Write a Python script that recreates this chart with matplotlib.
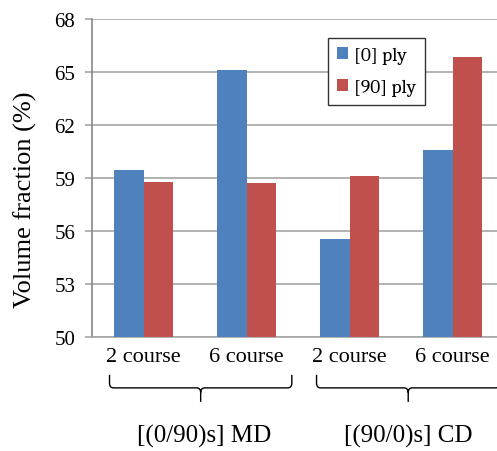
import numpy as np
import matplotlib.pyplot as plt
from matplotlib.path import Path
from matplotlib.patches import PathPatch
from matplotlib.transforms import blended_transform_factory

categories = ["2 course", "6 course", "2 course", "6 course"]
ply0 = [59.43, 65.1, 55.55, 60.6]
ply90 = [58.79, 58.74, 59.13, 65.85]
series_names = ["[0] ply", "[90] ply"]
groups = ["[(0/90)s] MD", "[(90/0)s] CD"]

blue = "#4F81BD"
red = "#C0504D"
grid_gray = "#A6A6A6"

plt.rcParams["font.family"] = ["Liberation Serif", "DejaVu Serif"]

fig = plt.figure(figsize=(4.97, 4.52), dpi=100)
ax = fig.add_axes([92 / 497, 114 / 452, 412 / 497, 318 / 452])

x = np.arange(len(categories))
w = 0.285
ax.bar(x - w / 2, ply0, w, color=blue, label=series_names[0], zorder=3)
ax.bar(x + w / 2, ply90, w, color=red, label=series_names[1], zorder=3)

ax.set_ylim(50, 68)
ax.set_xlim(-0.5, 3.5)
ax.set_yticks([50, 53, 56, 59, 62, 65, 68])
ax.yaxis.grid(True, color=grid_gray, linewidth=1.2, zorder=0)
ax.set_axisbelow(True)
ax.tick_params(axis="y", length=5, width=1.2, color=grid_gray, labelsize=15, pad=7)
ax.tick_params(axis="x", length=0, labelsize=16, pad=7)
ax.set_xticks(x)
ax.set_xticklabels(categories)
for side in ["top", "right"]:
    ax.spines[side].set_visible(False)
ax.spines["left"].set_color("#888888")
ax.spines["bottom"].set_color(grid_gray)
ax.spines["left"].set_linewidth(1.2)
ax.spines["bottom"].set_linewidth(1.2)
ax.set_ylabel("Volume fraction (%)", fontsize=19, va="center")
ax.yaxis.set_label_coords(-0.162, 0.434)

leg = ax.legend(loc="upper left", bbox_to_anchor=(328 / 497, 1 - 39 / 452),
                bbox_transform=fig.transFigure, borderaxespad=0,
                fancybox=False, framealpha=1, edgecolor="#333333",
                prop={"family": ["Caladea", "DejaVu Serif"], "size": 14},
                handlelength=0.6, handleheight=0.6, handletextpad=0.3,
                labelspacing=0.75, borderpad=0.45)
leg.get_frame().set_linewidth(1.0)

# curly braces under each pair of categories
trans = blended_transform_factory(ax.transData, ax.transAxes)


def brace(xa, xb, ytop=-0.119, ymid=-0.160, ybot=-0.204, rx=0.04, ry=0.015):
    xc = (xa + xb) / 2
    verts = [(xa, ytop), (xa, ymid + ry), (xa, ymid), (xa + rx, ymid),
             (xc - rx, ymid), (xc, ymid), (xc, ymid - ry), (xc, ybot),
             (xc, ymid - ry), (xc, ymid), (xc + rx, ymid),
             (xb - rx, ymid), (xb, ymid), (xb, ymid + ry), (xb, ytop)]
    codes = [Path.MOVETO, Path.LINETO, Path.CURVE3, Path.CURVE3,
             Path.LINETO, Path.CURVE3, Path.CURVE3, Path.LINETO,
             Path.MOVETO, Path.CURVE3, Path.CURVE3,
             Path.LINETO, Path.CURVE3, Path.CURVE3, Path.LINETO]
    ax.add_patch(PathPatch(Path(verts, codes), transform=trans, fill=False,
                           edgecolor="black", linewidth=1.0, clip_on=False))


brace(-0.33, 1.44)
brace(1.68, 3.46)

ax.text(0.59, -0.31, groups[0], transform=trans, ha="center", va="center", fontsize=18)
ax.text(2.57, -0.31, groups[1], transform=trans, ha="center", va="center", fontsize=18)

fig.savefig("out.png", dpi=100)
